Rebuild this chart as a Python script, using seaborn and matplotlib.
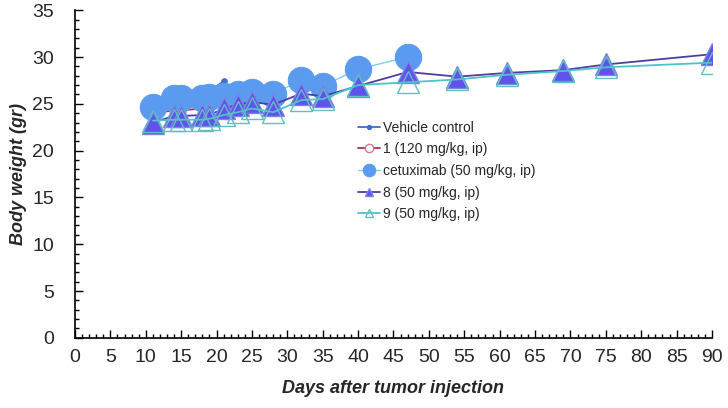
import matplotlib
matplotlib.use("Agg")
import matplotlib.pyplot as plt
import seaborn as sns
import pandas as pd
from matplotlib.ticker import MultipleLocator

sns.set_theme(style="white")
plt.rcParams['font.family'] = ['Liberation Sans', 'DejaVu Sans']

days_short = [11, 14, 15, 18, 19, 21]
vehicle = [25.3, 25.8, 26.0, 26.2, 26.4, 27.4]
cmpd1 = [24.0, 24.3, 24.3, 24.5, 24.6, 24.8]

days_cet = [11, 14, 15, 18, 19, 21, 23, 25, 28, 32, 35, 40, 47]
cetuximab = [24.7, 25.6, 25.6, 25.6, 25.7, 25.8, 26.0, 26.3, 26.1, 27.5, 26.9, 28.7, 30.0]

days_long = [11, 14, 15, 18, 19, 21, 23, 25, 28, 32, 35, 40, 47, 54, 61, 69, 75, 90]
cmpd8 = [23.0, 23.7, 23.7, 23.8, 23.8, 24.5, 24.9, 25.2, 24.9, 26.1, 25.8, 26.9, 28.4, 27.9, 28.3, 28.6, 29.2, 30.3]
cmpd9 = [23.2, 23.3, 23.3, 23.3, 23.4, 23.8, 24.1, 24.5, 24.1, 25.4, 25.5, 27.0, 27.3, 27.6, 28.1, 28.5, 28.9, 29.4]

labels = ["Vehicle control", "1 (120 mg/kg, ip)", "cetuximab (50 mg/kg, ip)",
          "8 (50 mg/kg, ip)", "9 (50 mg/kg, ip)"]

fig = plt.figure(figsize=(7.28, 4.08), dpi=100)
ax = fig.add_axes([0.103, 0.172, 0.875, 0.803])

series = [
    (days_short, vehicle, labels[0], dict(color="#3F6FC8", lw=1.3, marker="o", ms=4,
                                          mfc="#3F6FC8", mec="#3F6FC8")),
    (days_short, cmpd1, labels[1], dict(color="#B0304A", lw=1.3, marker="o", ms=7,
                                        mfc="white", mec="#D07A90", mew=1.0)),
    (days_cet, cetuximab, labels[2], dict(color="#7FCFE6", lw=1.0, marker="o", ms=19,
                                          mfc="#5B9BEF", mec="#5B9BEF")),
    (days_long, cmpd8, labels[3], dict(color="#4B3FA0", lw=1.3, marker="^", ms=16,
                                       mfc="#6152EC", mec="#7A86E0", mew=1.0)),
    (days_long, cmpd9, labels[4], dict(color="#4CC4CC", lw=1.3, marker="^", ms=16,
                                       mfc="none", mec="#5FC0C0", mew=1.0)),
]

for i, (x, y, lab, kw) in enumerate(series):
    df = pd.DataFrame({"day": x, "weight": y})
    sns.lineplot(data=df, x="day", y="weight", ax=ax, label=lab, zorder=3 + i, **kw)

ax.set_xlim(0, 90)
ax.set_ylim(0, 35)
ax.xaxis.set_major_locator(MultipleLocator(5))
ax.xaxis.set_minor_locator(MultipleLocator(1))
ax.yaxis.set_major_locator(MultipleLocator(5))
ax.yaxis.set_minor_locator(MultipleLocator(1))
ax.tick_params(which="major", direction="in", length=6, width=1, color="black",
               labelsize=14, bottom=True, left=True)
ax.tick_params(axis="x", which="major", pad=8)
ax.tick_params(axis="y", which="major", pad=15)
ax.tick_params(which="minor", direction="in", length=3, width=1, color="black",
               bottom=True, left=True)
for s in ["top", "right"]:
    ax.spines[s].set_visible(False)
for s in ["left", "bottom"]:
    ax.spines[s].set_color("black")
    ax.spines[s].set_linewidth(1.2)

ax.set_xlabel("Days after tumor injection", fontsize=13, fontweight="bold",
              fontstyle="italic", labelpad=10)
ax.set_ylabel("Body weight (gr)", fontsize=13, fontweight="bold",
              fontstyle="italic", labelpad=4)

handles, labs = ax.get_legend_handles_labels()
leg = ax.legend(handles, labs, loc="upper left", bbox_to_anchor=(0.435, 0.68),
                frameon=False, fontsize=10, handlelength=1.6, handletextpad=0.2,
                labelspacing=0.55, borderaxespad=0, markerscale=1.0)
for h, ms in zip(leg.legend_handles, [3, 6, 9, 6, 6]):
    h.set_markersize(ms)

fig.savefig("out.png", dpi=100)
